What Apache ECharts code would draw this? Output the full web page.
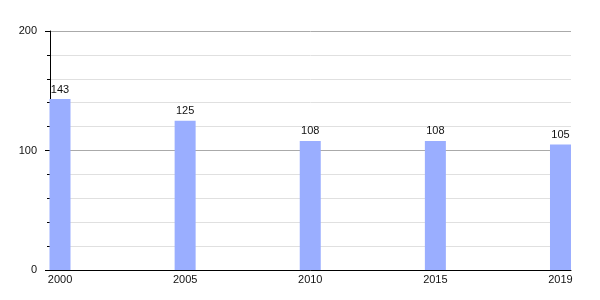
<!DOCTYPE html>
<html>
<head>
<meta charset="utf-8">
<script src="https://cdn.jsdelivr.net/npm/echarts@6/dist/echarts.min.js"></script>
<style>html,body{margin:0;padding:0;background:#fff}#c{width:600px;height:300px}</style>
</head>
<body>
<div id="c"></div>
<script>
var years = ['2000', '2005', '2010', '2015', '2019'];
var values = [143, 125, 108, 108, 105];
var yMin = 0, yMax = 200, yStep = 100;

var chart = echarts.init(document.getElementById('c'), null, {renderer: 'canvas'});
var font = '"Liberation Sans", Arial, sans-serif';
var idx = years.map(function (_, i) { return i; });
chart.setOption({
  animation: false,
  grid: {left: 50, right: 29, top: 31, bottom: 30, containLabel: false},
  xAxis: {
    type: 'value',
    min: -0.08,
    max: 4.084,
    axisLine: {show: true, onZero: false, lineStyle: {color: '#000', width: 1}},
    axisTick: {show: false},
    splitLine: {show: false},
    axisLabel: {
      customValues: idx,
      margin: 4,
      fontFamily: font,
      fontSize: 11,
      color: '#111',
      formatter: function (v) { return years[Math.round(v)]; }
    }
  },
  yAxis: {
    type: 'value',
    min: yMin,
    max: yMax,
    interval: yStep,
    axisLine: {show: true, onZero: false, lineStyle: {color: '#000', width: 1}},
    axisTick: {show: true, length: 5, lineStyle: {color: '#000'}},
    minorTick: {show: true, splitNumber: 5, length: 3, lineStyle: {color: '#000'}},
    splitLine: {show: true, lineStyle: {color: '#aaa', width: 1}},
    minorSplitLine: {show: true, lineStyle: {color: '#e0e0e0', width: 1}},
    axisLabel: {margin: 13, fontFamily: font, fontSize: 11, color: '#111'}
  },
  series: [{
    type: 'bar',
    barWidth: 21,
    data: idx.map(function (i) { return [i, values[i]]; }),
    itemStyle: {color: '#9aaeff'},
    label: {
      show: true,
      position: 'top',
      distance: 4,
      fontFamily: font,
      fontSize: 11,
      color: '#111',
      formatter: function (p) { return p.value[1]; }
    }
  }]
});
</script>
</body>
</html>
